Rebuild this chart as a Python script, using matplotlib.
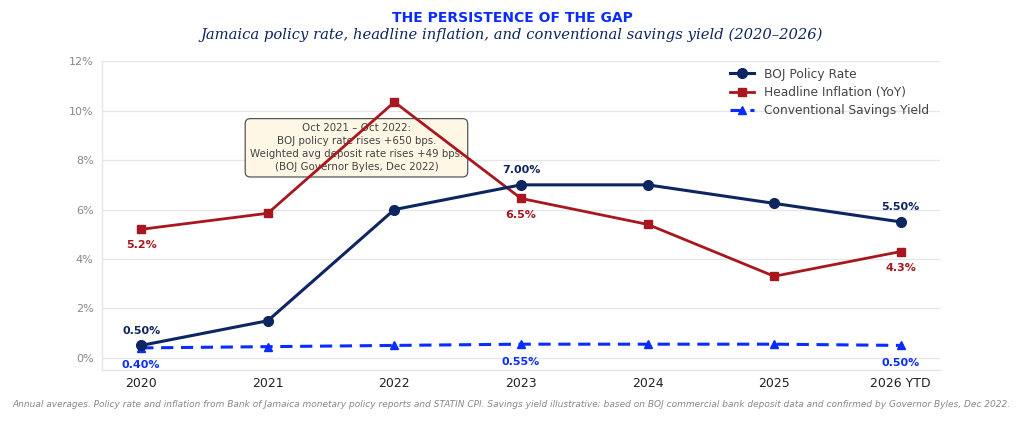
import matplotlib
matplotlib.use("Agg")
import matplotlib.pyplot as plt
from matplotlib.ticker import FuncFormatter

years = ["2020", "2021", "2022", "2023", "2024", "2025", "2026 YTD"]
policy_rate = [0.50, 1.50, 6.00, 7.00, 7.00, 6.25, 5.50]
inflation = [5.2, 5.85, 10.35, 6.45, 5.4, 3.3, 4.3]
savings_yield = [0.40, 0.45, 0.50, 0.55, 0.55, 0.55, 0.50]

# which points get a value label: (index, text)
policy_labels = [(0, "0.50%"), (3, "7.00%"), (6, "5.50%")]
inflation_labels = [(0, "5.2%"), (3, "6.5%"), (6, "4.3%")]
savings_labels = [(0, "0.40%"), (3, "0.55%"), (6, "0.50%")]

NAVY = "#0d2560"
RED = "#a8171f"
BLUE = "#0a2dff"

fig = plt.figure(figsize=(10.24, 4.23), dpi=100)
ax = fig.add_axes([0.0996, 0.125, 0.8184, 0.73])

x = list(range(len(years)))
ax.plot(x, policy_rate, "-o", color=NAVY, lw=2.2, ms=7, label="BOJ Policy Rate", zorder=4)
ax.plot(x, inflation, "-s", color=RED, lw=2.0, ms=6, label="Headline Inflation (YoY)", zorder=3)
ax.plot(x, savings_yield, "--^", color=BLUE, lw=2.2, ms=6, dashes=(4, 2.5),
        label="Conventional Savings Yield", zorder=3)

for i, t in policy_labels:
    ax.annotate(t, (i, policy_rate[i]), xytext=(0, 7), textcoords="offset points",
                ha="center", va="bottom", color=NAVY, fontsize=8, fontweight="bold")
for i, t in inflation_labels:
    ax.annotate(t, (i, inflation[i]), xytext=(0, -8), textcoords="offset points",
                ha="center", va="top", color=RED, fontsize=8, fontweight="bold")
for i, t in savings_labels:
    ax.annotate(t, (i, savings_yield[i]), xytext=(0, -9), textcoords="offset points",
                ha="center", va="top", color=BLUE, fontsize=8, fontweight="bold")

ax.text(1.7, 8.5, "Oct 2021 \u2013 Oct 2022:\nBOJ policy rate rises +650 bps.\n"
        "Weighted avg deposit rate rises +49 bps.\n(BOJ Governor Byles, Dec 2022)",
        ha="center", va="center", fontsize=7.4, color="#444444", linespacing=1.38,
        bbox=dict(boxstyle="round,pad=0.45,rounding_size=0.5", fc="#fff7e6", ec="#555555", lw=0.9),
        zorder=2)

ax.set_xlim(-0.31, 6.31)
ax.set_ylim(-0.5, 12)
ax.set_yticks([0, 2, 4, 6, 8, 10, 12])
ax.yaxis.set_major_formatter(FuncFormatter(lambda v, p: f"{v:.0f}%"))
ax.set_xticks(x)
ax.set_xticklabels(years)
ax.tick_params(axis="y", colors="#888888", labelsize=8, length=0, pad=6)
ax.tick_params(axis="x", colors="#222222", labelsize=9, length=0, pad=5)
ax.grid(axis="y", color="#e6e6e6", lw=0.9)
ax.set_axisbelow(True)
for s in ["top", "right"]:
    ax.spines[s].set_visible(False)
for s in ["left", "bottom"]:
    ax.spines[s].set_color("#e6e6e6")
    ax.spines[s].set_linewidth(1.0)

ax.legend(loc="upper right", frameon=False, fontsize=8.8, labelcolor="#444444",
          handlelength=2.0, labelspacing=0.42, bbox_to_anchor=(1.0, 1.015))

fig.text(0.5, 0.957, "THE PERSISTENCE OF THE GAP", ha="center", va="center",
         color="#0a2dff", fontsize=10, fontweight="bold")
fig.text(0.5, 0.918, "Jamaica policy rate, headline inflation, and conventional savings yield (2020\u20132026)",
         ha="center", va="center", color=NAVY, fontsize=10.6, style="italic", family="DejaVu Serif")
fig.text(0.5, 0.043, "Annual averages. Policy rate and inflation from Bank of Jamaica monetary policy reports "
         "and STATIN CPI. Savings yield illustrative; based on BOJ commercial bank deposit data and "
         "confirmed by Governor Byles, Dec 2022.",
         ha="center", va="center", color="#888888", fontsize=6.5, style="italic")

fig.savefig("out.png", dpi=100)
